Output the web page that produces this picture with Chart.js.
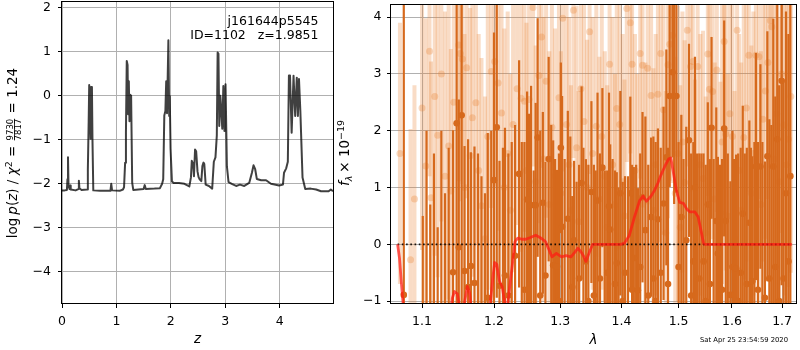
<!DOCTYPE html>
<html>
<head>
<meta charset="utf-8">
<script src="https://cdn.jsdelivr.net/npm/chart.js@4.4.1/dist/chart.umd.min.js"></script>
<style>
  html, body { margin: 0; padding: 0; background: #fff; width: 800px; height: 350px; overflow: hidden; }
  #pz { position: absolute; left: 0; top: 0; }
  #sp { position: absolute; left: 334px; top: 0; }
</style>
</head>
<body>
<canvas id="pz" width="340" height="350"></canvas>
<canvas id="sp" width="466" height="350"></canvas>
<script>
// ---------- redshift probability, log p(z) ----------
const zGrid = [0.00,0.05,0.09,0.10,0.11,0.12,0.14,0.15,0.16,0.25,0.30,0.31,0.32,0.36,0.46,0.475,0.49,0.50,0.515,0.525,0.535,0.55,0.56,0.575,0.70,0.89,0.905,0.92,1.06,1.12,1.14,1.16,1.175,1.19,1.205,1.215,1.228,1.24,1.255,1.27,1.29,1.31,1.50,1.52,1.54,1.70,1.80,1.84,1.86,1.88,1.90,1.915,1.93,1.955,1.97,1.98,1.995,2.02,2.05,2.15,2.25,2.34,2.37,2.385,2.41,2.425,2.445,2.465,2.49,2.51,2.53,2.56,2.58,2.60,2.615,2.64,2.70,2.76,2.79,2.82,2.845,2.86,2.875,2.89,2.91,2.93,2.945,2.965,2.985,3.005,3.03,3.06,3.12,3.20,3.27,3.35,3.44,3.49,3.52,3.55,3.58,3.66,3.75,3.84,3.99,4.06,4.08,4.12,4.15,4.17,4.19,4.22,4.255,4.285,4.315,4.335,4.355,4.38,4.42,4.47,4.57,4.67,4.76,4.90,4.94,4.98];
const logPz = [-2.15,-2.15,-2.14,-1.90,-1.40,-2.05,-2.12,-2.04,-2.13,-2.15,-2.12,-1.93,-2.10,-2.14,-2.13,-1.68,-0.60,0.24,-0.20,-0.98,0.20,0.18,-1.00,-2.15,-2.16,-2.16,-2.00,-2.15,-2.16,-2.13,-2.08,-1.52,-0.84,0.79,0.70,-0.42,0.33,-0.58,0.02,0.00,-1.98,-2.14,-2.12,-2.03,-2.12,-2.11,-2.10,-2.00,-1.90,-0.45,-0.35,0.33,-0.40,1.26,-0.46,0.00,-1.20,-1.95,-1.98,-1.98,-2.00,-2.06,-1.85,-1.48,-1.55,-1.83,-1.22,-1.26,-1.72,-1.85,-1.90,-1.94,-1.60,-1.52,-1.55,-2.02,-2.05,-2.11,-1.50,-1.40,-0.90,0.98,0.95,-0.69,0.00,-0.40,-0.75,0.22,-0.80,0.26,-1.60,-1.96,-2.00,-2.05,-2.02,-2.05,-1.98,-1.75,-1.58,-1.67,-1.89,-1.92,-1.92,-2.00,-2.04,-2.02,-1.75,-1.65,-1.50,0.46,0.46,-0.84,0.45,-0.46,0.41,-0.46,0.38,-0.35,-1.86,-2.12,-2.11,-2.13,-2.17,-2.17,-2.13,-2.17];
const zTicks = [0, 1, 2, 3, 4];
const pzTicks = [-4, -3, -2, -1, 0, 1, 2];

// ---------- 1D spectrum, f_lambda ----------
const darkLam = [1.076,1.101,1.106,1.111,1.116,1.121,1.126,1.131,1.136,1.142,1.147,1.150,1.154,1.158,1.163,1.167,1.172,1.177,1.182,1.187,1.191,1.196,1.200,1.204,1.208,1.213,1.216,1.221,1.226,1.231,1.237,1.241,1.245,1.249,1.252,1.255,1.259,1.262,1.265,1.269,1.273,1.277,1.282,1.286,1.289,1.292,1.295,1.298,1.301,1.303,1.307,1.312,1.316,1.319,1.322,1.326,1.330,1.334,1.337,1.341,1.345,1.350,1.354,1.357,1.360,1.364,1.368,1.372,1.376,1.379,1.381,1.385,1.389,1.392,1.395,1.398,1.402,1.406,1.411,1.415,1.418,1.421,1.425,1.428,1.432,1.436,1.441,1.446,1.451,1.455,1.459,1.463,1.468,1.473,1.478,1.481,1.484,1.489,1.492,1.496,1.500,1.505,1.509,1.514,1.519,1.523,1.527,1.530,1.534,1.538,1.542,1.546,1.550,1.554,1.558,1.561,1.565,1.570,1.573,1.577,1.581,1.585,1.588,1.592,1.597,1.601,1.604,1.608,1.612,1.617,1.621,1.625,1.629,1.634,1.637,1.640,1.644,1.647,1.651,1.656,1.660,1.665,1.670,1.674,1.678,1.682,1.686,1.690,1.694,1.699,1.703,1.708,1.713,1.717];
const darkFlux = [-0.89,-1.6,-1.2,-1.8,-1.4,-2.0,-1.3,-1.7,-1.1,-0.49,2.13,-0.05,2.27,-0.47,-0.75,-0.38,-0.68,-1.5,-1.2,-1.8,-0.94,-1.4,1.13,2.06,-0.73,-1.3,-0.55,-0.9,-1.6,-0.2,1.24,-1.4,-0.8,0.79,-1.3,0.69,-1.1,0.69,1.88,-0.9,0.73,-0.55,1.50,-1.2,-0.37,-1.5,-0.39,-1.0,1.70,0.31,-1.3,0.45,-1.1,-0.75,0.07,-1.4,-0.6,1.08,-1.2,-0.30,-1.0,0.92,-0.9,-1.3,0.77,-0.6,1.35,-1.1,-0.5,0.67,0.26,-1.2,-0.7,-0.33,-1.4,0.90,-1.0,-0.5,-1.3,0.90,-0.8,-0.24,-1.2,-0.81,-0.4,0.83,0.25,-0.9,0.48,-0.6,-1.0,0.44,-0.5,0.72,1.53,-0.7,2.61,3.03,2.61,2.61,-0.4,0.48,-1.1,0.07,1.83,-0.9,-0.3,1.0,-1.2,-0.6,-1.4,-0.3,-1.0,0.70,-0.7,2.05,-1.1,0.41,-0.16,-1.3,-0.8,2.04,0.41,-1.2,-0.89,-0.4,-1.5,-0.42,-1.0,-0.5,0.54,-1.3,-0.7,0.38,-1.1,-0.65,-1.4,1.37,-0.8,1.37,-1.2,-0.94,1.55,-0.6,-1.3,1.37,-0.4,1.85,-1.0,2.88,-0.6,0.9,-0.3,1.2];
const darkErr = [5.5,2.1,3.2,2.5,3.0,2.3,3.3,2.6,2.8,2.5,3.4,2.6,3.6,2.2,2.6,2.0,2.4,3.1,2.4,2.7,2.9,3.4,2.6,3.0,2.2,3.0,2.6,2.5,3.4,2.3,2.0,3.2,2.6,1.9,3.6,2.1,2.4,1.8,2.1,2.9,1.6,2.0,1.8,3.3,2.2,3.0,1.7,2.6,1.5,2.3,2.8,1.9,3.0,1.6,1.4,2.5,2.0,1.7,2.9,1.8,2.4,1.6,2.3,2.6,1.9,2.2,1.4,2.4,1.8,2.0,1.5,2.7,2.0,1.6,2.4,1.8,2.1,1.7,2.5,1.7,2.2,1.6,2.6,1.8,2.0,1.5,2.0,2.3,1.4,2.5,2.8,1.6,2.2,1.7,1.9,2.4,1.6,1.5,1.9,1.7,2.2,1.8,2.6,2.0,1.7,2.5,2.1,2.3,2.8,2.2,3.0,1.9,2.4,1.8,2.2,1.6,2.6,2.0,1.7,2.7,2.3,1.9,1.6,2.8,2.0,2.4,3.0,2.0,2.6,2.2,1.9,2.9,2.4,1.8,2.8,2.2,3.2,2.0,2.6,1.8,3.0,2.4,2.2,2.8,3.4,2.6,3.0,3.0,3.8,3.6,3.5,3.2,4.0,3.6];

const lightLam = [1.071,1.0848,1.090,1.100,1.105,1.110,1.112,1.117,1.121,1.126,1.131,1.136,1.139,1.143,1.150,1.152,1.155,1.158,1.161,1.166,1.169,1.174,1.178,1.182,1.187,1.191,1.196,1.201,1.206,1.211,1.215,1.220,1.224,1.228,1.234,1.240,1.245,1.248,1.252,1.258,1.262,1.267,1.271,1.274,1.278,1.283,1.287,1.292,1.298,1.301,1.304,1.310,1.314,1.317,1.321,1.326,1.329,1.333,1.338,1.343,1.347,1.352,1.358,1.363,1.367,1.372,1.376,1.380,1.385,1.389,1.392,1.397,1.402,1.405,1.409,1.415,1.418,1.423,1.427,1.432,1.436,1.441,1.445,1.451,1.455,1.459,1.463,1.468,1.473,1.477,1.481,1.484,1.489,1.494,1.499,1.503,1.507,1.511,1.516,1.522,1.526,1.530,1.535,1.540,1.545,1.550,1.554,1.557,1.563,1.567,1.571,1.578,1.581,1.585,1.588,1.592,1.596,1.601,1.605,1.610,1.614,1.618,1.623,1.628,1.633,1.638,1.642,1.647,1.653,1.657,1.661,1.666,1.671,1.676,1.679,1.684,1.689,1.694,1.699,1.704,1.709,1.713,1.718];
const lightFlux = [1.6,-0.27,0.8,2.4,1.38,3.40,0.82,2.6,1.92,3.0,1.2,1.73,0.94,2.5,3.51,3.36,3.26,1.0,3.11,1.56,2.23,2.49,1.3,0.68,0.10,1.9,3.04,3.22,2.84,2.31,1.0,1.6,0.6,2.11,2.74,2.57,2.52,1.3,2.55,4.17,1.1,2.97,3.65,1.5,2.87,0.7,2.06,1.2,2.58,0.9,3.98,2.11,1.4,0.6,4.12,1.7,0.4,2.74,2.16,1.0,3.74,1.6,2.08,0.8,1.9,1.2,0.3,3.17,1.4,0.7,2.39,2.11,1.1,0.5,4.15,3.90,3.17,1.3,0.4,3.36,3.15,0.9,3.10,2.62,0.6,1.4,2.64,3.36,2.37,0.2,3.16,3.52,3.68,0.9,1.6,0.3,1.8,1.09,3.77,3.13,3.22,0.5,3.13,1.4,1.16,0.2,3.35,2.73,2.69,0.8,3.07,0.56,1.8,3.57,1.94,0.5,2.3,1.90,0.1,3.77,1.3,0.6,1.88,2.4,3.33,0.9,1.6,3.33,3.30,0.7,2.2,2.70,3.20,3.94,3.83,1.5,2.3,1.1,3.0,2.1,1.4,1.85,2.6];
const lightErr = [2.3,2.3,2.0,2.5,2.6,2.2,2.4,2.8,2.5,2.6,2.9,2.7,2.5,3.0,2.4,2.6,2.2,2.7,2.3,2.6,2.8,2.5,2.4,2.6,2.5,2.7,2.4,2.2,2.6,2.3,2.8,2.5,2.4,2.6,2.4,2.7,2.3,2.6,2.5,2.8,2.4,2.6,2.3,2.5,2.4,2.7,2.2,2.6,2.4,2.5,2.7,2.3,2.6,2.2,2.6,2.5,2.3,2.4,2.2,2.6,2.5,2.4,2.3,2.5,2.7,2.2,2.5,2.4,2.6,2.3,2.5,2.2,2.6,2.4,2.7,2.3,2.5,2.4,2.6,2.2,2.5,2.3,2.4,2.2,2.5,2.3,2.6,2.4,2.2,2.5,2.7,2.4,2.6,2.4,2.6,2.5,2.3,2.5,2.4,2.2,2.6,2.4,2.5,2.3,2.6,2.4,2.5,2.3,2.6,2.4,2.5,2.3,2.5,2.6,2.4,2.5,2.7,2.4,2.6,2.5,2.4,2.6,2.5,2.7,2.4,2.6,2.5,2.3,2.5,2.7,2.5,2.6,2.4,2.6,2.5,2.8,2.7,2.9,2.8,3.0,2.9,2.6,3.1];

const modelLam = [1.068,1.0705,1.073,1.0755,1.080,1.100,1.125,1.137,1.141,1.144,1.148,1.151,1.155,1.159,1.162,1.165,1.168,1.180,1.190,1.195,1.198,1.201,1.204,1.208,1.212,1.216,1.219,1.223,1.227,1.231,1.235,1.241,1.247,1.254,1.262,1.270,1.277,1.282,1.287,1.294,1.302,1.309,1.317,1.323,1.328,1.333,1.337,1.341,1.347,1.352,1.399,1.405,1.413,1.422,1.431,1.437,1.443,1.451,1.457,1.463,1.468,1.472,1.477,1.482,1.486,1.490,1.496,1.502,1.509,1.515,1.521,1.530,1.536,1.541,1.546,1.548,1.720];
const modelFlux = [0.00,-0.25,-0.70,-1.10,-1.80,-2.20,-2.00,-1.40,-0.95,-0.83,-0.87,-1.10,-1.25,-0.95,-0.74,-0.85,-1.20,-1.80,-1.40,-1.00,-0.62,-0.32,-0.35,-0.65,-0.75,-1.05,-1.15,-0.75,-0.35,0.05,0.11,0.09,0.09,0.12,0.16,0.11,0.05,-0.08,-0.22,-0.16,-0.22,-0.20,-0.22,-0.14,-0.07,-0.13,-0.20,-0.30,-0.13,0.00,0.00,0.02,0.15,0.48,0.77,0.85,0.76,0.85,0.95,1.08,1.21,1.30,1.41,1.50,1.52,1.30,0.95,0.74,0.72,0.62,0.57,0.57,0.48,0.25,0.02,0.00,0.00];

const zeroLam = [1.068, 1.72];
const lamTicks = [1.1, 1.2, 1.3, 1.4, 1.5, 1.6, 1.7];
const fluxTicks = [-1, 0, 1, 2, 3, 4];

// ---------- shared helpers ----------
Chart.defaults.font.family = 'DejaVu Sans';
Chart.defaults.color = '#000';
const FONT = 'DejaVu Sans';
const tickFont = { family: FONT, size: 12.5 };
const minus = v => (v < 0 ? '\u2212' : '') + Math.abs(v);
const pts = (xs, ys) => xs.map((x, i) => ({ x, y: ys[i] }));
const gridStyle = { color: '#b0b0b0', lineWidth: 1, tickLength: 4, tickColor: '#000', drawTicks: true };

// tick labels may overhang the axes box; keep the plot area fixed
const noPadX = s => { s.height = 46; s.paddingLeft = 0; s.paddingRight = 0; };
const noPadY = w => s => { s.width = w; s.paddingTop = 0; s.paddingBottom = 0; };

// vertical errorbars, drawn just before their own points
const errorBars = {
  id: 'errorBars',
  beforeDatasetDraw(chart, args) {
    const ds = chart.data.datasets[args.index];
    if (!ds.errors) return;
    const { ctx, chartArea: a, scales: { x, y } } = chart;
    ctx.save();
    ctx.beginPath();
    ctx.rect(a.left, a.top, a.right - a.left, a.bottom - a.top);
    ctx.clip();
    ctx.strokeStyle = ds.barColor;
    ctx.lineWidth = ds.barWidth;
    ctx.lineCap = 'butt';
    ds.data.forEach((p, i) => {
      const px = x.getPixelForValue(p.x);
      ctx.beginPath();
      ctx.moveTo(px, y.getPixelForValue(p.y - ds.errors[i]));
      ctx.lineTo(px, y.getPixelForValue(p.y + ds.errors[i]));
      ctx.stroke();
    });
    ctx.restore();
  }
};

// axes frame (all four spines)
const frame = {
  id: 'frame',
  afterDraw(chart) {
    const { ctx, chartArea: a } = chart;
    ctx.save();
    ctx.strokeStyle = '#000';
    ctx.lineWidth = 1;
    ctx.strokeRect(Math.round(a.left) - 0.5, Math.round(a.top) + 0.5,
                   Math.round(a.right - a.left) + 1, Math.round(a.bottom - a.top) - 1);
    ctx.restore();
  }
};

// label laid out from rich-text pieces, rotated to read upwards
function drawVertical(ctx, bx, cy, parts) {
  ctx.save();
  ctx.translate(bx, cy);
  ctx.rotate(-Math.PI / 2);
  ctx.fillStyle = '#000';
  ctx.textBaseline = 'alphabetic';
  ctx.textAlign = 'left';
  const widths = parts.map(p => {
    ctx.font = p.font;
    if (p.num) return Math.max(ctx.measureText(p.num).width, ctx.measureText(p.den).width) + 2;
    return ctx.measureText(p.t).width + (p.gap || 0);
  });
  let cur = -widths.reduce((s, v) => s + v, 0) / 2;
  parts.forEach((p, i) => {
    ctx.font = p.font;
    if (p.num) {
      const w = widths[i];
      ctx.textAlign = 'center';
      ctx.fillText(p.num, cur + w / 2, p.numY);
      ctx.fillText(p.den, cur + w / 2, p.denY);
      ctx.textAlign = 'left';
      ctx.fillRect(cur + 1, p.barY, w - 2, 0.8);
    } else {
      ctx.fillText(p.t, cur, p.dy || 0);
    }
    cur += widths[i];
  });
  ctx.restore();
}

// ---------- left panel ----------
const pzLabels = {
  id: 'pzLabels',
  afterDraw(chart) {
    const { ctx, chartArea: a } = chart;
    ctx.save();
    ctx.fillStyle = '#000';
    ctx.font = `12.5px ${FONT}`;
    ctx.textAlign = 'right';
    ctx.textBaseline = 'alphabetic';
    ctx.fillText('j161644p5545', a.right - 14.5, 24.5);
    ctx.fillText('ID=1102   z=1.9851', a.right - 14.5, 39);
    ctx.textAlign = 'center';
    ctx.textBaseline = 'middle';
    ctx.font = `italic 13.5px ${FONT}`;
    ctx.fillText('z', (a.left + a.right) / 2, 339);
    ctx.restore();
    const r = `13.5px ${FONT}`, it = `italic 13.5px ${FONT}`;
    drawVertical(ctx, 17, 153, [
      { t: 'log', font: r, gap: 3 },
      { t: 'p', font: it },
      { t: '(', font: r },
      { t: 'z', font: it },
      { t: ') / ', font: r },
      { t: '\u03c7', font: it },
      { t: '2', font: `9.5px ${FONT}`, dy: -5.5 },
      { t: ' = ', font: r },
      { num: '9730', den: '7817', font: `8.5px ${FONT}`, numY: -4.2, denY: 4.2, barY: -2.9 },
      { t: ' = 1.24', font: r }
    ]);
  }
};

new Chart(document.getElementById('pz'), {
  type: 'scatter',
  data: {
    datasets: [{
      data: pts(zGrid, logPz),
      showLine: true,
      borderColor: 'rgba(0,0,0,0.75)',
      borderWidth: 2,
      borderJoinStyle: 'round',
      pointRadius: 0,
      clip: 0
    }]
  },
  options: {
    responsive: false,
    animation: false,
    devicePixelRatio: 1,
    layout: { padding: { top: 1, right: 7, left: 0, bottom: 0 } },
    plugins: { legend: { display: false }, tooltip: { enabled: false } },
    scales: {
      x: {
        type: 'linear', min: 0, max: 4.98,
        afterFit: noPadX,
        afterBuildTicks: s => { s.ticks = zTicks.map(v => ({ value: v })); },
        ticks: { font: tickFont, color: '#000', padding: 6, maxRotation: 0, callback: v => minus(v) },
        grid: gridStyle,
        border: { display: false }
      },
      y: {
        type: 'linear', min: -4.73, max: 2.15,
        afterFit: noPadY(62),
        afterBuildTicks: s => { s.ticks = pzTicks.map(v => ({ value: v })); },
        ticks: { font: tickFont, color: '#000', padding: 7, callback: v => minus(v) },
        grid: gridStyle,
        border: { display: false }
      }
    }
  },
  plugins: [frame, pzLabels]
});

// ---------- right panel ----------
const spLabels = {
  id: 'spLabels',
  afterDraw(chart) {
    const { ctx, chartArea: a } = chart;
    ctx.save();
    ctx.fillStyle = '#000';
    ctx.textAlign = 'center';
    ctx.textBaseline = 'middle';
    ctx.font = `italic 13.5px ${FONT}`;
    ctx.fillText('\u03bb', (a.left + a.right) / 2, 340);
    ctx.font = `6.8px ${FONT}`;
    ctx.textAlign = 'right';
    ctx.textBaseline = 'alphabetic';
    ctx.fillText('Sat Apr 25 23:54:59 2020', 454, 341.5);
    ctx.restore();
    const r = `13.5px ${FONT}`;
    drawVertical(ctx, 15, 153, [
      { t: 'f', font: `italic 13.5px ${FONT}` },
      { t: '\u03bb', font: `italic 9.5px ${FONT}`, dy: 2.5, gap: 3 },
      { t: '\u00d7 10', font: r },
      { t: '\u221219', font: `9.5px ${FONT}`, dy: -5.5 }
    ]);
  }
};

new Chart(document.getElementById('sp'), {
  type: 'scatter',
  data: {
    datasets: [
      {
        data: pts(lightLam, lightFlux), errors: lightErr,
        barColor: 'rgba(232,128,50,0.28)', barWidth: 4,
        backgroundColor: 'rgba(232,128,50,0.30)', borderWidth: 0,
        pointRadius: 3.5, clip: 0, order: 4
      },
      {
        data: pts(darkLam, darkFlux), errors: darkErr,
        barColor: 'rgb(214,105,28)', barWidth: 2.2,
        backgroundColor: 'rgb(214,105,28)', borderWidth: 0,
        pointRadius: 3.3, clip: 0, order: 3
      },
      {
        data: pts(zeroLam, [0, 0]), showLine: true,
        borderColor: 'rgba(0,0,0,0.9)', borderWidth: 1.6, borderDash: [1.6, 2.64],
        pointRadius: 0, clip: 0, order: 2
      },
      {
        data: pts(modelLam, modelFlux), showLine: true,
        borderColor: 'rgba(255,25,20,0.72)', borderWidth: 2.8, borderJoinStyle: 'round',
        pointRadius: 0, clip: 0, order: 1
      }
    ]
  },
  options: {
    responsive: false,
    animation: false,
    devicePixelRatio: 1,
    layout: { padding: { top: 1, right: 1, left: 0, bottom: 0 } },
    plugins: { legend: { display: false }, tooltip: { enabled: false } },
    scales: {
      x: {
        type: 'logarithmic', min: 1.0595, max: 1.7288,
        afterFit: noPadX,
        afterBuildTicks: s => { s.ticks = lamTicks.map(v => ({ value: v })); },
        ticks: { font: tickFont, color: '#000', padding: 6, maxRotation: 0, autoSkip: false, callback: v => Number(v).toFixed(1) },
        grid: gridStyle,
        border: { display: false }
      },
      y: {
        type: 'linear', min: -1.05, max: 4.23,
        afterFit: noPadY(57),
        afterBuildTicks: s => { s.ticks = fluxTicks.map(v => ({ value: v })); },
        ticks: { font: tickFont, color: '#000', padding: 5.5, callback: v => minus(v) },
        grid: gridStyle,
        border: { display: false }
      }
    }
  },
  plugins: [errorBars, frame, spLabels]
});
</script>
</body>
</html>
